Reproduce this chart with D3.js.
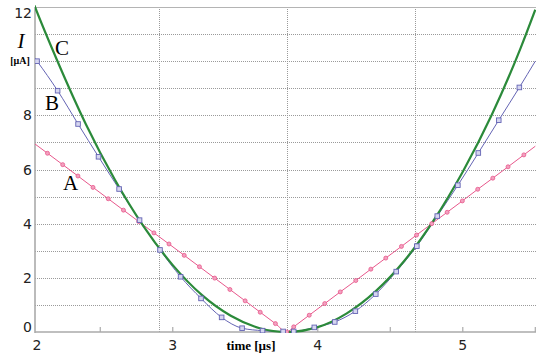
<!DOCTYPE html>
<html>
<head>
<meta charset="utf-8">
<script src="https://cdn.jsdelivr.net/npm/d3@7"></script>
<style>
  body { margin: 0; background: #fff; }
  svg { display: block; }
</style>
</head>
<body>
<div id="chart"></div>
<script>
// A: pink line, circle markers (t in µs, I in µA)
const aTime = [2.0, 2.136, 2.241, 2.346, 2.450, 2.555, 2.660, 2.765, 2.870, 2.974, 3.079, 3.184, 3.289, 3.394, 3.499, 3.603, 3.708, 3.786,
               3.834, 3.941, 4.048, 4.155, 4.262, 4.366, 4.469, 4.577, 4.681, 4.786, 4.892, 4.997, 5.103, 5.207, 5.312, 5.421, 5.5];
const aCurrent = [7.14, 6.60, 6.18, 5.76, 5.34, 4.92, 4.50, 4.08, 3.66, 3.25, 2.83, 2.41, 1.99, 1.57, 1.15, 0.73, 0.31, 0.0,
                  0.19, 0.62, 1.05, 1.48, 1.90, 2.32, 2.73, 3.16, 3.58, 4.00, 4.42, 4.84, 5.27, 5.68, 6.10, 6.54, 6.86];

// B: blue line, square markers
const bTime = [2.0, 2.064, 2.206, 2.347, 2.488, 2.630, 2.771, 2.912, 3.054, 3.195, 3.337, 3.478, 3.619, 3.761,
               3.834, 3.976, 4.117, 4.259, 4.400, 4.541, 4.683, 4.824, 4.966, 5.107, 5.248, 5.390, 5.5];
const bCurrent = [10.45, 10.00, 8.91, 7.68, 6.47, 5.28, 4.13, 3.03, 2.04, 1.24, 0.54, 0.14, 0.05, 0.02,
                  0.02, 0.17, 0.37, 0.77, 1.40, 2.23, 3.17, 4.28, 5.42, 6.61, 7.82, 9.03, 10.0];

// C: green line, no markers
const cTime = [2.0, 2.05, 2.2, 2.4, 2.6, 2.8, 3.0, 3.2, 3.4, 3.6, 3.786, 4.0, 4.2, 4.4, 4.6, 4.8, 5.0, 5.2, 5.4, 5.5];
const cCurrent = [12.7, 12.0, 10.06, 7.68, 5.63, 3.89, 2.47, 1.37, 0.60, 0.14, 0.0, 0.18, 0.69, 1.51, 2.65, 4.13, 5.92, 8.02, 10.5, 11.9];

// axis ticks / grid  (10 is taken by the unit label)
const xTickLabels = [2, 3, 4, 5];
const xTicks = [2.5, 3, 4, 4.5, 5, 5.5];
const yTickLabels = [0, 2, 4, 6, 8, 12];
const yGrid = [1, 2, 3, 4, 5, 6, 7, 8, 9, 10, 11];
const tGrid = [2.906, 3.786, 4.669];

const width = 536, height = 354;
const plotL = 35, plotR = 535.3, plotT = 7, plotB = 332;

var svg = d3.select("#chart").append("svg")
            .attr("width", width).attr("height", height);

let x = d3.scaleLinear().domain([2.05, 5.5]).range([plotL, plotR]);
let y = d3.scaleLinear().domain([0, 12]).range([plotB, plotT]);

svg.append("clipPath").attr("id", "plot")
   .append("rect")
   .attr("x", plotL).attr("y", plotT - 2)
   .attr("width", width - plotL).attr("height", plotB - plotT + 3);

//网格
let grid = svg.append("g").attr("stroke", "#9a9a9a").attr("stroke-width", 1).attr("stroke-dasharray", "1,1");
grid.selectAll(".hg").data(yGrid).enter().append("line")
    .attr("x1", plotL).attr("x2", width)
    .attr("y1", d => Math.round(y(d)) + 0.5).attr("y2", d => Math.round(y(d)) + 0.5);
grid.selectAll(".vg").data(tGrid).enter().append("line")
    .attr("y1", plotT).attr("y2", plotB)
    .attr("x1", d => Math.round(x(d)) + 0.5).attr("x2", d => Math.round(x(d)) + 0.5);

//边框和坐标轴
svg.append("line").attr("x1", plotL).attr("x2", width).attr("y1", plotT + 0.5).attr("y2", plotT + 0.5)
   .attr("stroke", "#b4b4b4").attr("stroke-width", 1.2);
svg.append("line").attr("x1", plotL).attr("x2", plotL).attr("y1", plotT).attr("y2", plotB + 1)
   .attr("stroke", "#aaa").attr("stroke-width", 1.6);
svg.append("line").attr("x1", plotL).attr("x2", width).attr("y1", plotB).attr("y2", plotB)
   .attr("stroke", "#aaa").attr("stroke-width", 1.6);

svg.append("g").selectAll("line").data(xTicks).enter().append("line")
   .attr("x1", d => x(d)).attr("x2", d => x(d))
   .attr("y1", plotB).attr("y2", plotB - 5)
   .attr("stroke", "#aaa").attr("stroke-width", 1.2);

//刻度文字
svg.append("g").selectAll("text").data(xTickLabels).enter().append("text")
   .attr("x", d => Math.max(x(d), 37))
   .attr("y", 350)
   .attr("text-anchor", "middle")
   .style("font-family", "DejaVu Sans")
   .style("font-size", "14px")
   .style("fill", "#222")
   .text(d => d);

svg.append("g").selectAll("text").data(yTickLabels).enter().append("text")
   .attr("x", 32)
   .attr("y", d => Math.min(Math.max(y(d), 13), 327) + 5)
   .attr("text-anchor", "end")
   .style("font-family", "DejaVu Sans")
   .style("font-size", "14px")
   .style("fill", "#222")
   .text(d => d);

//曲线
let lineGroup = svg.append("g").attr("clip-path", "url(#plot)");

function drawLine(ts, vs, color, w) {
  let pts = ts.map((t, i) => [t, vs[i]]);
  lineGroup.append("path")
     .datum(pts)
     .attr("fill", "none")
     .attr("stroke", color)
     .attr("stroke-width", w)
     .attr("d", d3.line().x(d => x(d[0])).y(d => y(d[1])).curve(d3.curveMonotoneX));
  return pts;
}

let aPts = drawLine(aTime, aCurrent, "#e8588c", 1);
let bPts = drawLine(bTime, bCurrent, "#6464b4", 1);
drawLine(cTime, cCurrent, "#2b8a3a", 2.2);

// markers (skip the edge points)
lineGroup.append("g").selectAll("circle")
   .data(aPts.slice(1, -1)).enter().append("circle")
   .attr("cx", d => x(d[0])).attr("cy", d => y(d[1]))
   .attr("r", 2)
   .attr("fill", "#f2a0bf").attr("stroke", "#e8588c").attr("stroke-width", 0.8);

lineGroup.append("g").selectAll("rect")
   .data(bPts.slice(1, -1)).enter().append("rect")
   .attr("x", d => x(d[0]) - 2.3).attr("y", d => y(d[1]) - 2.3)
   .attr("width", 4.6).attr("height", 4.6)
   .attr("fill", "#d6d6f0").attr("stroke", "#6464b4").attr("stroke-width", 0.9);

//标注
const serif = "Liberation Serif";
svg.append("text").attr("x", 55).attr("y", 55).style("font-family", serif).style("font-size", "21px").text("C");
svg.append("text").attr("x", 45).attr("y", 110).style("font-family", serif).style("font-size", "21px").text("B");
svg.append("text").attr("x", 63).attr("y", 190).style("font-family", serif).style("font-size", "21px").text("A");

svg.append("text").attr("x", 21).attr("y", 48).attr("text-anchor", "middle")
   .style("font-family", serif).style("font-style", "italic").style("font-size", "21px").text("I");
svg.append("text").attr("x", 20).attr("y", 64).attr("text-anchor", "middle")
   .style("font-family", serif).style("font-weight", "bold").style("font-size", "10px").text("[µA]");
svg.append("text").attr("x", 251).attr("y", 350).attr("text-anchor", "middle")
   .style("font-family", serif).style("font-weight", "bold").style("font-size", "13px").text("time [µs]");
</script>
</body>
</html>
